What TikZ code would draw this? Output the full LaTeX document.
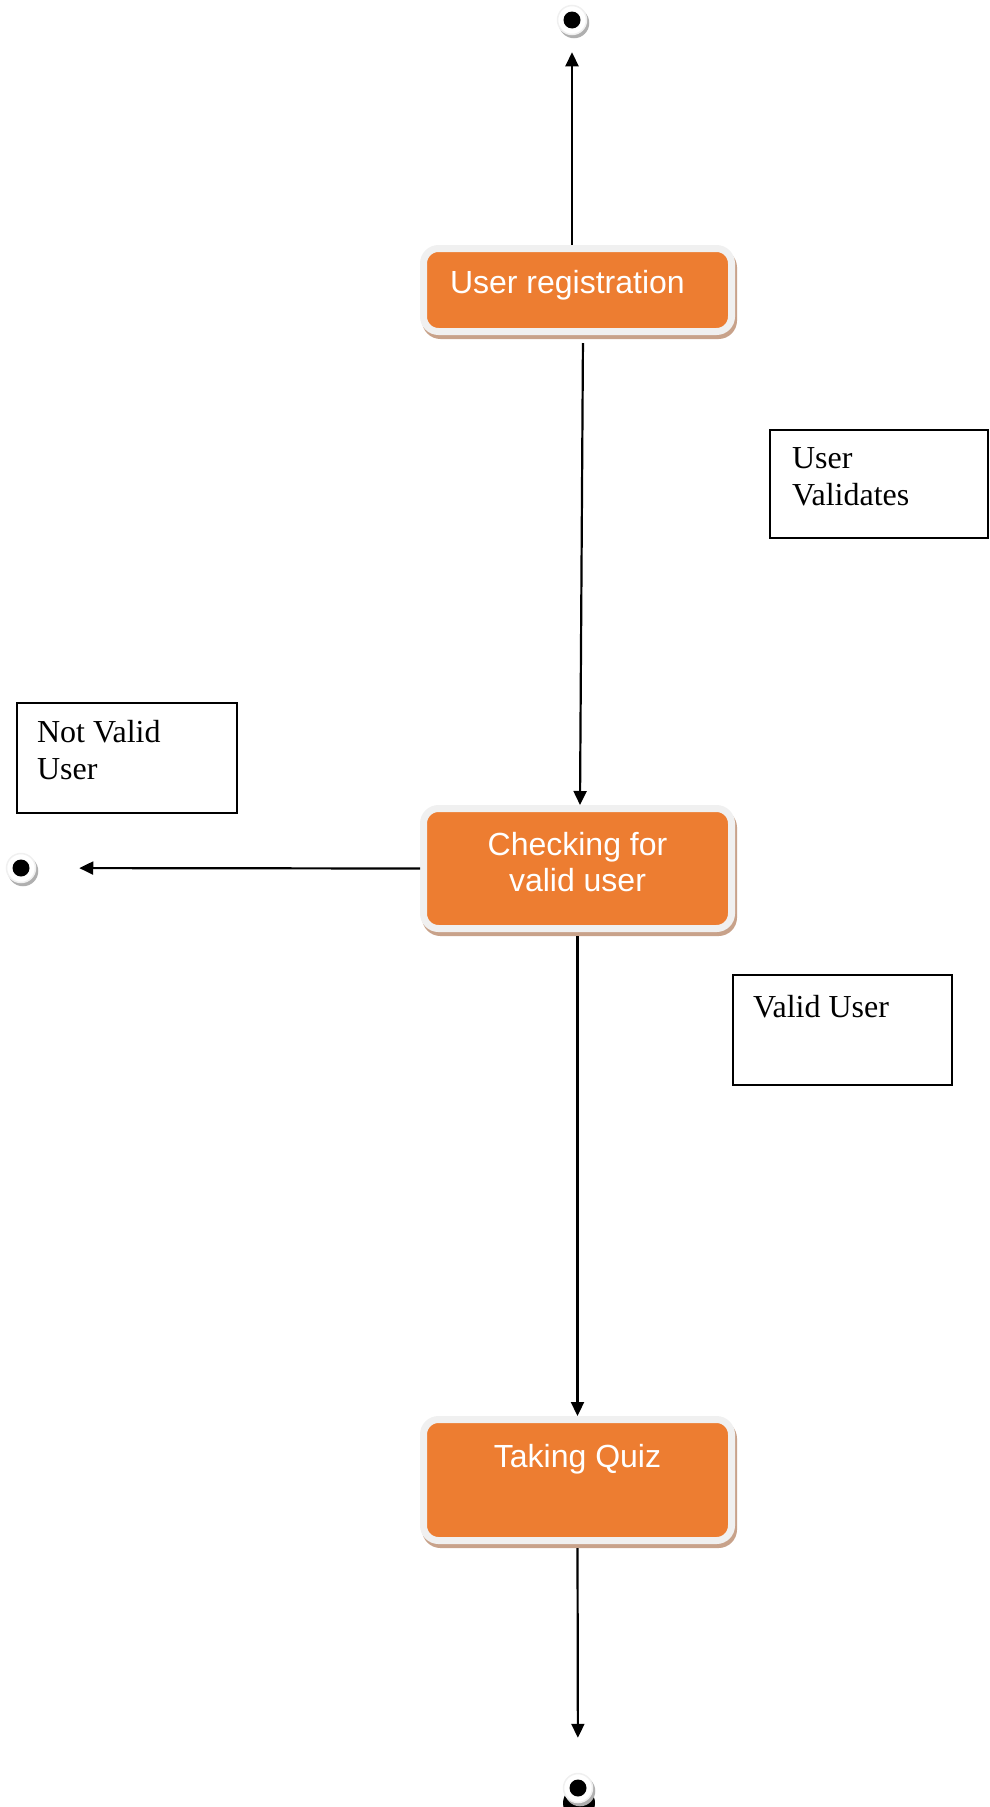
\documentclass[tikz,border=0pt]{standalone}
\usepackage{fontspec}
\setmainfont{Liberation Serif}
\setsansfont{Liberation Sans}
\usepackage{tikz}
\usetikzlibrary{arrows.meta,shadows}
\usepackage{xcolor}
\definecolor{stateorange}{RGB}{237,125,49}
\definecolor{rimgray}{RGB}{240,240,240}
\definecolor{shadowtan}{RGB}{200,162,138}
\definecolor{dotshadow}{RGB}{175,175,175}

\begin{document}
\begin{tikzpicture}[x=1pt, y=-1pt]
    % state style
    \tikzstyle{statebox}=[
      rectangle,
      rounded corners=15pt,
      fill=stateorange,
      draw=rimgray,
      line width=7pt,
      minimum width=308pt,
      text=white,
      font=\sffamily\fontsize{32}{36}\selectfont,
      align=center,
      general shadow={fill=shadowtan, draw=shadowtan, shadow xshift=2pt, shadow yshift=-4pt}
    ]
    % note style
    \tikzstyle{notebox}=[
      draw,
      rectangle,
      line width=1.5pt,
      font=\fontsize{32}{37}\selectfont,
      align=flush left
    ]
    % start / end points
    \tikzstyle{endpt}=[
      circle,
      minimum size=29pt,
      inner sep=0pt,
      fill=white,
      draw=rimgray,
      line width=1.5pt,
      general shadow={fill=dotshadow, draw=dotshadow, shadow xshift=2pt, shadow yshift=-3pt},
      path picture={\fill[black] (path picture bounding box.center) circle (8.5pt);}
    ]
    \tikzstyle{flow}=[-{Triangle[length=14pt,width=13pt]}, line width=2.2pt]

    \useasboundingbox (0,0) rectangle (989,1807);

    % end points
    \node[endpt] (top) at (572,20) {};
    \node[endpt] (lft) at (21,868) {};
    \fill[black] (579,1803) circle (16pt);
    \node[endpt] (bot) at (578,1788) {};

    % states
    \node[statebox, minimum height=83pt, text width=255pt, align=flush left,
      text height=22pt, text depth=16pt] (reg) at (577.5,290) {User registration};
    \node[statebox, minimum height=120pt,
      text height=58pt, text depth=13pt] (chk) at (577.5,868.5) {Checking for\\valid user};
    \node[statebox, minimum height=121pt,
      text height=22pt, text depth=48pt] (quiz) at (577.5,1480) {Taking Quiz};

    % notes
    \node[notebox, minimum width=218pt, minimum height=108pt, text width=174pt,
      text height=22pt, text depth=54pt] (uv) at (879,484) {User\\Validates};
    \node[notebox, minimum width=220pt, minimum height=110pt, text width=180pt,
      text height=22pt, text depth=54pt] (nvu) at (127,758) {Not Valid\\User};
    \node[notebox, minimum width=219pt, minimum height=110pt, text width=179pt,
      text height=22pt, text depth=48pt] (vu) at (842.5,1030) {Valid User};

    % transitions
    \draw[flow, shorten >=17pt] (reg.north -| top) -- (top);
    \draw[flow, shorten <=8pt] ([xshift=5.5pt]reg.south) -- ([xshift=2.5pt]chk.north);
    \draw[flow, shorten >=43pt] (chk.west) -- (lft);
    \draw[flow, shorten <=4pt] (chk.south) -- (quiz.north);
    \draw[flow, shorten <=4pt, shorten >=35pt] (quiz.south) -- (bot);
  \end{tikzpicture}
\end{document}
